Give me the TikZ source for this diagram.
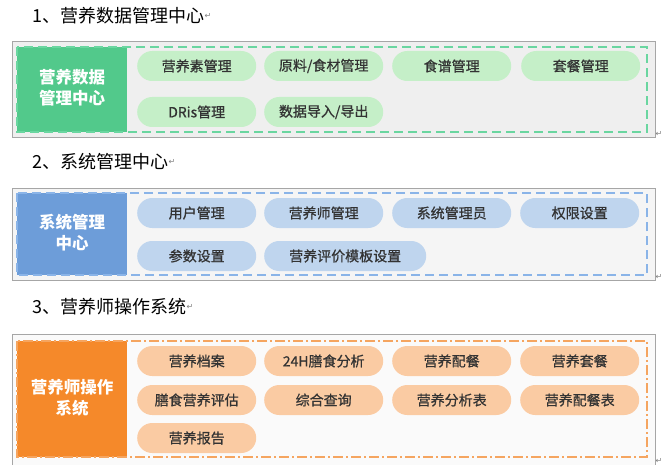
\documentclass[tikz,border=0pt]{standalone}
\usepackage{fontspec}
\setmainfont{Noto Sans CJK SC}
\newfontfamily\cjk{Noto Sans CJK SC}
\newfontfamily\pillf[FakeBold=0.8]{Noto Sans CJK SC}
\newfontfamily\symf{DejaVu Sans}
\definecolor{gblock}{HTML}{52C98B}
\definecolor{gpill}{HTML}{C5EFC8}
\definecolor{gdash}{HTML}{6AD6A0}
\definecolor{gbg}{HTML}{EFEFEF}
\definecolor{bblock}{HTML}{6D9DD9}
\definecolor{bpill}{HTML}{BFD5EE}
\definecolor{bdash}{HTML}{8AB4E8}
\definecolor{bbg}{HTML}{F5F5F5}
\definecolor{oblock}{HTML}{F5892A}
\definecolor{opill}{HTML}{FACBA3}
\definecolor{odash}{HTML}{F5A560}
\definecolor{obg}{HTML}{FAFAFA}
\definecolor{outer}{HTML}{A6A6A6}
\definecolor{ptext}{HTML}{333333}
\tikzset{
  pill/.style={anchor=west, rounded corners=15pt, minimum width=119pt, minimum height=30pt, inner sep=0pt,
    font=\pillf\fontsize{14}{16}\selectfont, text=ptext},
  blocklabel/.style={align=center, text=white, font=\cjk\bfseries\fontsize{16.5}{21}\selectfont},
  sectitle/.style={anchor=west, inner sep=0pt, font=\cjk\fontsize{18}{20}\selectfont, text=black},
  pmark/.style={inner sep=0pt, text=gray, font=\symf\fontsize{8}{8}\selectfont},
  outerbox/.style={draw=outer, line width=0.8pt},
}
\begin{document}
\begin{tikzpicture}[x=1pt,y=-1pt]
\useasboundingbox (0,0) rectangle (663,465);
% ---------- Section 1 ----------
\node[sectitle] (t1) at (32,16) {1、营养数据管理中心};
\node[pmark, anchor=west] (t1m) at (t1.east) {↵};
\fill[gbg] (12,41) rectangle (655,137);
\draw[outerbox] (12,41) rectangle (655,137);
\fill[gblock] (17,47) rectangle (127,132);
\node[blocklabel] (b1) at (72,88) {营养数据\\管理中心};
\draw[gdash, line width=1.8pt, dash pattern=on 9pt off 5pt] (17,47) rectangle (647,132);
\node[pill, fill=gpill] (p11) at (137,66) {营养素管理};
\node[pill, fill=gpill] (p12) at (264,66) {原料/食材管理};
\node[pill, fill=gpill] (p13) at (392,66) {食谱管理};
\node[pill, fill=gpill] (p14) at (521,66) {套餐管理};
\node[pill, fill=gpill] (p15) at (137,112) {DRis管理};
\node[pill, fill=gpill] (p16) at (264,112) {数据导入/导出};
\node[pmark] (m1) at (659,134) {↵};
% ---------- Section 2 ----------
\node[sectitle] (t2) at (32,162) {2、系统管理中心};
\node[pmark, anchor=west] (t2m) at (t2.east) {↵};
\fill[bbg] (12,188) rectangle (655,280);
\draw[outerbox] (12,188) rectangle (655,280);
\fill[bblock] (17,193) rectangle (127,275);
\node[blocklabel] (b2) at (72,233) {系统管理\\中心};
\draw[bdash, line width=1.8pt, dash pattern=on 9pt off 5pt] (17,193) rectangle (647,275);
\node[pill, fill=bpill] (p21) at (137,213) {用户管理};
\node[pill, fill=bpill] (p22) at (264,213) {营养师管理};
\node[pill, fill=bpill] (p23) at (392,213) {系统管理员};
\node[pill, fill=bpill] (p24) at (520,213) {权限设置};
\node[pill, fill=bpill] (p25) at (137,256) {参数设置};
\node[pill, fill=bpill, minimum width=162pt] (p26) at (264,256) {营养评价模板设置};
\node[pmark] (m2) at (659,277) {↵};
% ---------- Section 3 ----------
\node[sectitle] (t3) at (32,307) {3、营养师操作系统};
\node[pmark, anchor=west] (t3m) at (t3.east) {↵};
\fill[obg] (12,334) rectangle (655,470);
\draw[outerbox] (12,470) -- (12,334) -- (655,334) -- (655,470);
\fill[oblock] (17,341) rectangle (127,457);
\node[blocklabel] (b3) at (72,398) {营养师操作\\系统};
\draw[odash, line width=1.8pt, dash pattern=on 10pt off 3pt on 2pt off 3pt] (17,341) rectangle (647,457);
\node[pill, fill=opill] (p31) at (137,361) {营养档案};
\node[pill, fill=opill] (p32) at (264,361) {24H膳食分析};
\node[pill, fill=opill] (p33) at (392,361) {营养配餐};
\node[pill, fill=opill] (p34) at (520,361) {营养套餐};
\node[pill, fill=opill] (p35) at (137,400) {膳食营养评估};
\node[pill, fill=opill] (p36) at (264,400) {综合查询};
\node[pill, fill=opill] (p37) at (392,400) {营养分析表};
\node[pill, fill=opill] (p38) at (520,400) {营养配餐表};
\node[pill, fill=opill] (p39) at (137,438) {营养报告};
\node[pmark] (m3) at (659,461) {↵};
\end{tikzpicture}
\end{document}
